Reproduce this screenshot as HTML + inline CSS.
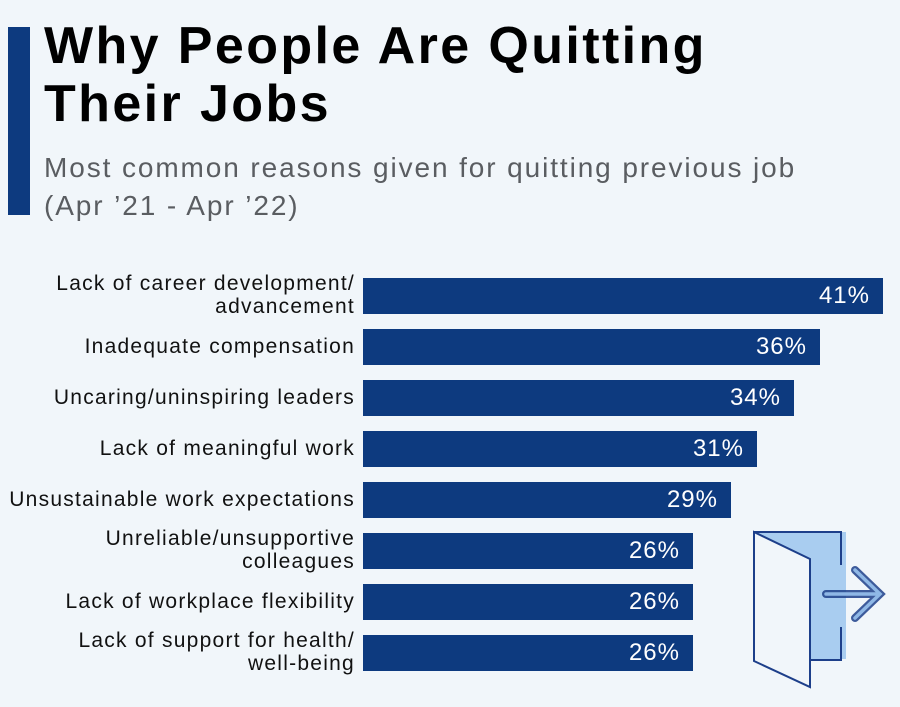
<!DOCTYPE html>
<html><head><meta charset="utf-8"><style>
body{margin:0;width:900px;height:707px;background:#f1f6fa;position:relative;overflow:hidden;font-family:"Liberation Sans","DejaVu Sans",sans-serif}
.acc{position:absolute;left:8px;top:27px;width:22px;height:188px;background:#0d3a7f}
h1{position:absolute;left:44px;top:17px;margin:0;font-size:52px;line-height:58px;font-weight:bold;color:#000;letter-spacing:2.4px}
.sub{position:absolute;left:44px;top:149px;font-size:28px;line-height:38px;color:#5a5d61;letter-spacing:1.9px}
.lab{position:absolute;right:545px;font-size:21px;line-height:23px;color:#111;text-align:right;letter-spacing:1.25px}
.bar{position:absolute;left:363px;height:36px;background:#0d3a7f;color:#fff;font-size:24px;line-height:36px;text-align:right;box-sizing:border-box;padding-right:13px;letter-spacing:1px}
</style></head><body>
<div class="acc"></div>
<h1>Why People Are Quitting<br>Their Jobs</h1>
<div class="sub">Most common reasons given for quitting previous job<br>(Apr ’21 - Apr ’22)</div>

<div class="lab" style="top:272px">Lack of career development/<br>advancement</div>
<div class="bar" style="top:278px;width:520px">41%</div>
<div class="lab" style="top:335px">Inadequate compensation</div>
<div class="bar" style="top:329px;width:457px">36%</div>
<div class="lab" style="top:386px">Uncaring/uninspiring leaders</div>
<div class="bar" style="top:380px;width:431px">34%</div>
<div class="lab" style="top:437px">Lack of meaningful work</div>
<div class="bar" style="top:431px;width:394px">31%</div>
<div class="lab" style="top:488px">Unsustainable work expectations</div>
<div class="bar" style="top:482px;width:368px">29%</div>
<div class="lab" style="top:527px">Unreliable/unsupportive<br>colleagues</div>
<div class="bar" style="top:533px;width:330px">26%</div>
<div class="lab" style="top:590px">Lack of workplace flexibility</div>
<div class="bar" style="top:584px;width:330px">26%</div>
<div class="lab" style="top:629px">Lack of support for health/<br>well-being</div>
<div class="bar" style="top:635px;width:330px">26%</div>

<svg style="position:absolute;left:740px;top:520px" width="160" height="187" viewBox="0 0 160 187">
<rect x="18" y="12" width="88" height="127" fill="#a9cdf0"/>
<polyline points="101,45 101,12 14,12" fill="none" stroke="#1d3f8a" stroke-width="2"/>
<polyline points="101,107 101,140 70,140" fill="none" stroke="#1d3f8a" stroke-width="2"/>
<polygon points="14,12 70,39 70,167 14,141" fill="#f1f6fa" stroke="#1d3f8a" stroke-width="2"/>
<path d="M86,74 L137,74 M115,50 L140,74 L115,98" fill="none" stroke="#1d3f8a" stroke-width="8" stroke-linecap="round" opacity="0.85"/>
<path d="M86,74 L137,74 M115,50 L140,74 L115,98" fill="none" stroke="#8fb8e6" stroke-width="3.5" stroke-linecap="round"/>
</svg>
</body></html>
